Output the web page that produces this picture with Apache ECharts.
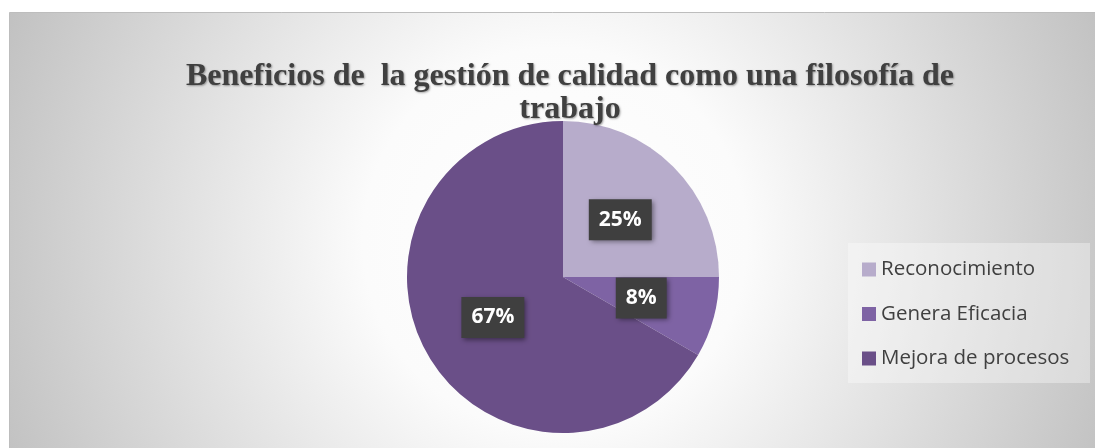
<!DOCTYPE html>
<html>
<head>
<meta charset="utf-8">
<script src="https://cdn.jsdelivr.net/npm/echarts@6/dist/echarts.min.js"></script>
<style>
  html, body { margin: 0; padding: 0; background: #ffffff; }
  #chart { width: 1095px; height: 448px; }
</style>
</head>
<body>
<div id="chart"></div>
<script>
// Data
const titleLines = ['Beneficios de  la gestión de calidad como una filosofía de', 'trabajo'];
const categories = ['Reconocimiento', 'Genera Eficacia', 'Mejora de procesos'];
const values = [3, 1, 8];
const colors = ['#b7accb', '#7e63a4', '#6a4f88'];

const chart = echarts.init(document.getElementById('chart'), null, { renderer: 'canvas' });

const option = {
  animation: false,
  backgroundColor: '#ffffff',
  title: {
    text: titleLines.join('\n'),
    left: 565,
    textAlign: 'center',
    top: 55,
    textStyle: {
      fontFamily: 'Liberation Serif',
      fontWeight: 'bold',
      fontSize: 32,
      lineHeight: 33,
      color: '#404040',
      textShadowColor: 'rgba(0,0,0,0.35)',
      textShadowBlur: 2,
      textShadowOffsetX: 1,
      textShadowOffsetY: 1
    }
  },
  graphic: [
    {
      type: 'rect',
      z: -10,
      silent: true,
      shape: { x: 9.5, y: 12.5, width: 1090, height: 440 },
      style: {
        fill: new echarts.graphic.RadialGradient(555, 240, 600, [
          { offset: 0, color: '#ffffff' },
          { offset: 0.32, color: '#fbfbfb' },
          { offset: 1, color: '#c0c0c0' }
        ], true),
        stroke: '#bdbdbd',
        lineWidth: 1
      }
    },
    {
      type: 'rect',
      z: -5,
      silent: true,
      shape: { x: 848, y: 243, width: 242, height: 140 },
      style: { fill: 'rgba(255,255,255,0.35)' }
    }
  ],
  legend: {
    orient: 'vertical',
    left: 857,
    top: 254,
    itemWidth: 14,
    itemHeight: 14,
    itemGap: 23.5,
    icon: 'rect',
    data: categories,
    textStyle: {
      fontFamily: 'Open Sans',
      fontSize: 20.5,
      lineHeight: 20,
      color: '#404040'
    }
  },
  series: [
    {
      type: 'pie',
      center: [563, 277],
      radius: 156,
      startAngle: 90,
      clockwise: true,
      percentPrecision: 0,
      emphasis: { disabled: true },
      data: categories.map((c, i) => ({
        name: c,
        value: values[i],
        itemStyle: { color: colors[i] }
      })),
      label: {
        show: true,
        position: 'inside',
        formatter: '{d}%',
        color: '#ffffff',
        fontFamily: 'Open Sans',
        fontWeight: 'bold',
        fontSize: 21,
        lineHeight: 21,
        backgroundColor: '#3f3f3f',
        padding: [10, 10],
        shadowColor: 'rgba(0,0,0,0.45)',
        shadowBlur: 5,
        shadowOffsetX: 2,
        shadowOffsetY: 2
      },
      labelLine: { show: false }
    }
  ]
};
chart.setOption(option);
</script>
</body>
</html>
